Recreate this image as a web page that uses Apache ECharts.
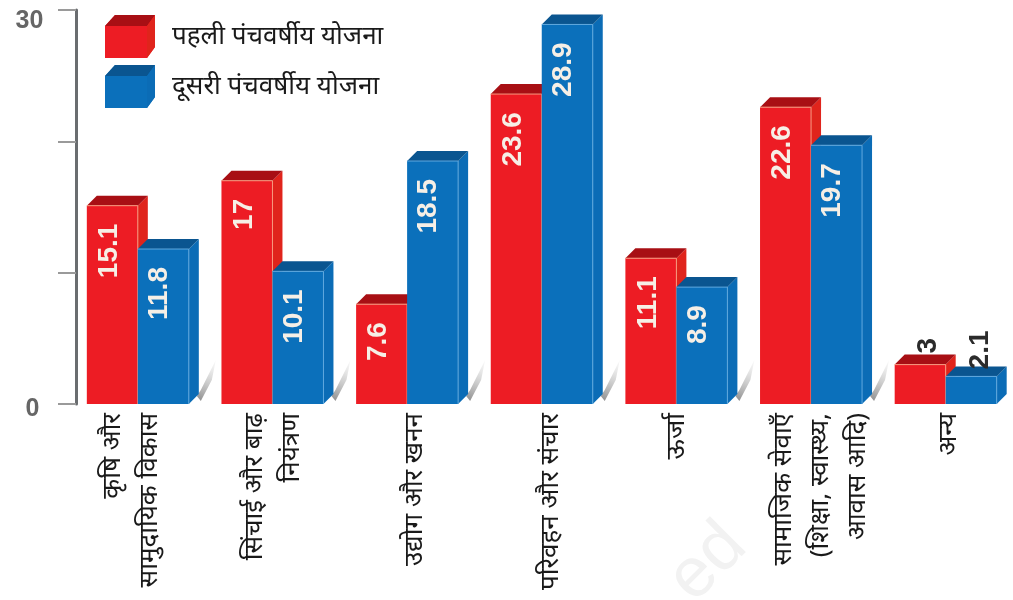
<!DOCTYPE html>
<html><head><meta charset="utf-8">
<style>html,body{margin:0;padding:0;background:#fff}#c{width:1013px;height:600px}</style>
<script src="https://cdn.jsdelivr.net/npm/echarts@6/dist/echarts.min.js"></script>
</head><body><div id="c"></div>
<script>
const categories = ['कृषि और\nसामुदायिक विकास','सिंचाई और बाढ़\nनियंत्रण','उद्योग और खनन','परिवहन और संचार','ऊर्जा','सामाजिक सेवाएँ\n(शिक्षा, स्वास्थ्य,\nआवास आदि)','अन्य'];
const firstPlan = [15.1,17,7.6,23.6,11.1,22.6,3];
const secondPlan = [11.8,10.1,18.5,28.9,8.9,19.7,2.1];
const seriesNames = ['पहली पंचवर्षीय योजना','दूसरी पंचवर्षीय योजना'];
const yTicks = {0:'{b|0}',30:'{a|30}'};

const FONT = '"Noto Sans","Noto Sans CJK SC","DejaVu Sans",sans-serif';
const BW = 51, DX = 10, DY = 10;
const LABEL_NUDGE = [-7,1,7,9,0,10,3];

function bar(side, colors){
  return function(params, api){
    const i = api.value(0), v = api.value(1);
    const p = api.coord([i, v]), base = api.coord([i, 0]);
    const x0 = side < 0 ? p[0]-BW : p[0], x1 = x0+BW, y = p[1], b = base[1];
    const ch = [];
    const poly = (pts, fill) => ({type:'polygon', shape:{points:pts}, style:{fill}, silent:true});
    if (v > 5 && side > 0) ch.push({type:'polygon', shape:{points:[[x1+DX-2,b-8],[x1+DX+2,b-14],[x1+DX+17,b-44],[x1+DX+13,b-24],[x1+DX+2,b-3]]},
      style:{fill:{type:'linear',x:1,y:0,x2:0,y2:1,colorStops:[{offset:0,color:'rgba(170,170,170,0.05)'},{offset:1,color:'rgba(90,90,90,0.7)'}]}}, silent:true});
    ch.push(poly([[x1,y],[x1+DX,y-DY],[x1+DX,b-DY],[x1,b]], colors.side));
    ch.push(poly([[x0,y],[x0+DX,y-DY],[x1+DX,y-DY],[x1,y]], colors.top));
    ch.push(poly([[x0,y],[x1,y],[x1,b],[x0,b]], colors.front));
    ch.push({type:'polyline', shape:{points:[[x0,y],[x1,y],[x1,b]]}, style:{stroke:colors.edge, lineWidth:1, fill:null}, silent:true});
    const small = v < 5;
    const cx = (x0+x1)/2;
    ch.push({type:'text', x: small ? cx+(side<0?8:9) : cx+(side<0?-3:-4), y: small ? y-(side<0?11:7) : y+18, rotation:Math.PI/2,
      style:{text:String(v), align: small?'left':'right', verticalAlign:'middle', fill: small?'#2b2b2b':'#f6efe6',
        font:'bold 28px "Liberation Sans",sans-serif'}, silent:true});
    return {type:'group', children:ch};
  };
}
function catLabel(params, api){
  const i = api.value(0);
  const p = api.coord([i, 0]);
  return {type:'text', x:p[0]+LABEL_NUDGE[i], y:p[1]+9, rotation:Math.PI/2, silent:true,
    style:{text:categories[i], align:'right', verticalAlign:'middle', fill:'#1a1a1a', font:'26px '+FONT, lineHeight:37}};
}
const redC = {front:'#ed1c24', side:'#e0241c', top:'#a80f14', edge:'#f79a7e'};
const blueC = {front:'#0b70bb', side:'#0b6cb6', top:'#0a5590', edge:'#5fa8de'};

const chart = echarts.init(document.getElementById('c'), null, {renderer:'canvas'});
chart.setOption({
  animation:false,
  backgroundColor:'#fff',
  grid:{left:70.5, top:10, width:945, height:394},
  legend:{
    left:100, top:10, orient:'vertical', itemWidth:50, itemHeight:43, itemGap:7, selectedMode:false,
    icon:'path://M0 11 L10 0 L50 0 L50 32 L42 43 L0 43 Z',
    textStyle:{fontFamily:FONT, fontSize:26, color:'#1a1a1a', padding:[0,0,0,12]},
    data:seriesNames
  },
  xAxis:{type:'category', data:categories,
    axisLine:{show:false}, axisTick:{show:false}, axisLabel:{show:false}},
  yAxis:{type:'value', min:0, max:30, interval:10, offset:-5.5,
    splitLine:{show:false},
    axisLine:{show:true, lineStyle:{color:'#6a6d70', width:3}},
    axisTick:{show:true, length:18, lineStyle:{color:'#9a9a9a', width:2}},
    axisLabel:{margin:37, alignMaxLabel:'center', alignMinLabel:'center', formatter:v=>yTicks[v]||'',
      rich:{
        a:{fontFamily:'"Liberation Sans",sans-serif', fontWeight:'bold', fontSize:25, color:'#666', padding:[22,19,0,0]},
        b:{fontFamily:'"Liberation Sans",sans-serif', fontWeight:'bold', fontSize:25, color:'#666', padding:[10,13,0,0]}
      }}},
  series:[
    {type:'custom', name:seriesNames[0], itemStyle:{color:'#ed1c24'}, renderItem:bar(-1,redC), encode:{x:0,y:1},
      data:firstPlan.map((v,i)=>[i,v]), z:2},
    {type:'custom', name:seriesNames[1], itemStyle:{color:'#0b70bb'}, renderItem:bar(1,blueC), encode:{x:0,y:1},
      data:secondPlan.map((v,i)=>[i,v]), z:3},
    {type:'custom', name:'labels', renderItem:catLabel, encode:{x:0,y:1}, silent:true,
      data:categories.map((c,i)=>[i,0]), z:4}
  ],
  graphic:[
    {type:'polygon', z:10, shape:{points:[[105,26],[115,15],[155,15],[147,26]]}, style:{fill:'#a80f14'}},
    {type:'polygon', z:10, shape:{points:[[147,26],[155,15],[155,47],[147,58]]}, style:{fill:'#e0241c'}},
    {type:'polygon', z:10, shape:{points:[[105,76],[115,65],[155,65],[147,76]]}, style:{fill:'#0a5590'}},
    {type:'polygon', z:10, shape:{points:[[147,76],[155,65],[155,97],[147,108]]}, style:{fill:'#0b6cb6'}},
    {type:'text', z:0, x:705, y:615, rotation:Math.PI/4, style:{text:'ed', font:'70px "Liberation Sans",sans-serif', fill:'#f2f2f2', align:'left', verticalAlign:'bottom'}}
  ]
});
</script></body></html>
